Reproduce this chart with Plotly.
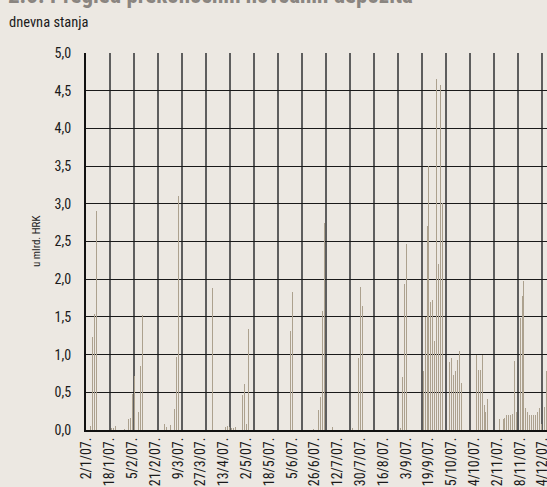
import plotly.graph_objects as go

# ---- data -------------------------------------------------------------
n_days = 250  # working days of 2007 (category index)
tick_labels = ["2/1/07.", "18/1/07.", "5/2/07.", "21/2/07.", "9/3/07.", "27/3/07.",
               "13/4/07.", "2/5/07.", "18/5/07.", "5/6/07.", "26/6/07.", "12/7/07.",
               "30/7/07.", "16/8/07.", "3/9/07.", "19/9/07.", "5/10/07.", "24/10/07.",
               "12/11/07.", "28/11/07.", "14/12/07."]
tick_days = [0, 12, 24, 36, 48, 60, 72, 84, 96, 108, 120, 132, 144, 156, 168,
             180, 192, 204, 216, 228, 240]

# days (working-day index) with non-zero balances and their values (bn HRK)
deposit_days = [2, 3, 4, 5, 13, 14, 15, 20, 22, 23, 24, 25, 27, 28, 29,
                41, 42, 44, 46, 47, 48,
                66, 73, 74, 75, 76, 77, 78, 82, 83, 84, 85, 107, 108, 119,
                122, 123, 124, 125, 129, 140, 143, 144, 145,
                165, 166, 167, 168,
                177, 178, 179, 180, 181, 182, 183, 184, 185, 186, 187,
                191, 192, 193, 194, 195, 196, 197,
                205, 206, 207, 208, 209, 210, 211,
                217, 219, 220, 221, 222, 223, 224, 225, 226, 228, 229, 230,
                231, 232, 233, 234, 235, 236, 237, 238, 239, 241, 242]
deposit_values = [0.05, 1.24, 1.54, 2.90, 0.03, 0.03, 0.05, 0.01, 0.15, 0.16, 0.48, 0.71, 0.24, 0.85, 1.53,
                  0.08, 0.04, 0.07, 0.28, 0.97, 3.10,
                  1.88, 0.04, 0.05, 0.04, 0.02, 0.02, 0.04, 0.46, 0.61, 0.08, 1.34, 1.31, 1.83, 0.01,
                  0.27, 0.44, 1.58, 2.75, 0.04, 0.02, 0.96, 1.90, 1.65,
                  0.02, 0.70, 1.94, 2.47,
                  0.78, 1.50, 2.71, 3.50, 1.70, 1.73, 1.18, 4.66, 2.20, 4.58, 3.01,
                  0.90, 0.95, 0.73, 0.78, 0.93, 1.05, 0.62,
                  1.00, 0.80, 0.80, 1.00, 0.33, 0.24, 0.41,
                  0.15, 0.15, 0.16, 0.20, 0.20, 0.20, 0.21, 0.92, 0.24, 1.48, 1.78, 1.98,
                  0.29, 0.24, 0.20, 0.20, 0.20, 0.20, 0.24, 0.29, 0.08, 0.30, 0.78]

days = list(range(n_days))
values = [0.0] * n_days
for d, v in zip(deposit_days, deposit_values):
    values[d] = v

# ---- style ------------------------------------------------------------
BG = "#ece8e2"
BAR = "rgba(172,161,142,0.995)"   # <1 alpha -> plotly snaps bar edges to pixels
FONT = "Roboto Condensed, Liberation Sans Narrow, sans-serif"
TXT = "#1a1a1a"

L, R_EDGE, TOP, BOT = 86, 547, 53, 430
plot_w = R_EDGE - L
plot_h = BOT - TOP
px_per_day = 1.9
grid_px = 24.0

fig = go.Figure()
fig.add_trace(go.Bar(x=days, y=values, width=0.56,
                     marker=dict(color=BAR, line=dict(width=0)),
                     showlegend=False, hoverinfo="x+y"))

fig.update_layout(
    width=547, height=487,
    margin=dict(l=L, r=547 - R_EDGE, t=TOP, b=487 - BOT, autoexpand=False),
    paper_bgcolor=BG, plot_bgcolor=BG,
    separators=",.",
    font=dict(family=FONT, size=12, color=TXT),
    bargap=0, bargroupgap=0,
    xaxis=dict(
        range=[-0.5, plot_w / px_per_day - 0.5],
        tickmode="array", tickvals=tick_days, ticktext=tick_labels,
        tickangle=-90, ticks="", showgrid=False, automargin=False,
        ticklabeloverflow="allow",
        showline=True, linecolor="#111111", linewidth=2,
        tickfont=dict(family=FONT, size=14, color=TXT),
        zeroline=False,
        minor=dict(tick0=-0.5, dtick=grid_px / px_per_day, showgrid=True,
                   gridcolor="#5e5e5e", gridwidth=2, ticks=""),
    ),
    yaxis=dict(
        range=[0, 5], dtick=0.5, tickformat=".1f",
        showgrid=True, gridcolor="#1a1a1a", gridwidth=1.2,
        showline=True, linecolor="#111111", linewidth=2,
        ticks="", ticklabelstandoff=10, zeroline=False, automargin=False,
        tickfont=dict(family=FONT, size=14, color=TXT),
    ),
    annotations=[
        dict(text="u mlrd. HRK", textangle=-90, x=(28 - L) / plot_w, y=0.5,
             xref="paper", yref="paper", showarrow=False,
             font=dict(family=FONT, size=11, color=TXT)),
        dict(text="dnevna stanja", x=(7 - L) / plot_w, y=(BOT - 23) / plot_h,
             xref="paper", yref="paper", xanchor="left", yanchor="middle",
             showarrow=False, font=dict(family=FONT, size=14.5, color=TXT)),
        dict(text="<b>2.5. Pregled prekonoćnih novčanih depozita</b>",
             x=(6 - L) / plot_w, y=(BOT + 5) / plot_h,
             xref="paper", yref="paper", xanchor="left", yanchor="middle",
             showarrow=False, font=dict(family=FONT, size=23, color="#8a8580")),
    ],
)

fig.write_html("out.html", config={"displayModeBar": False},
               post_script="document.body.style.margin='0';document.body.style.padding='0';")
